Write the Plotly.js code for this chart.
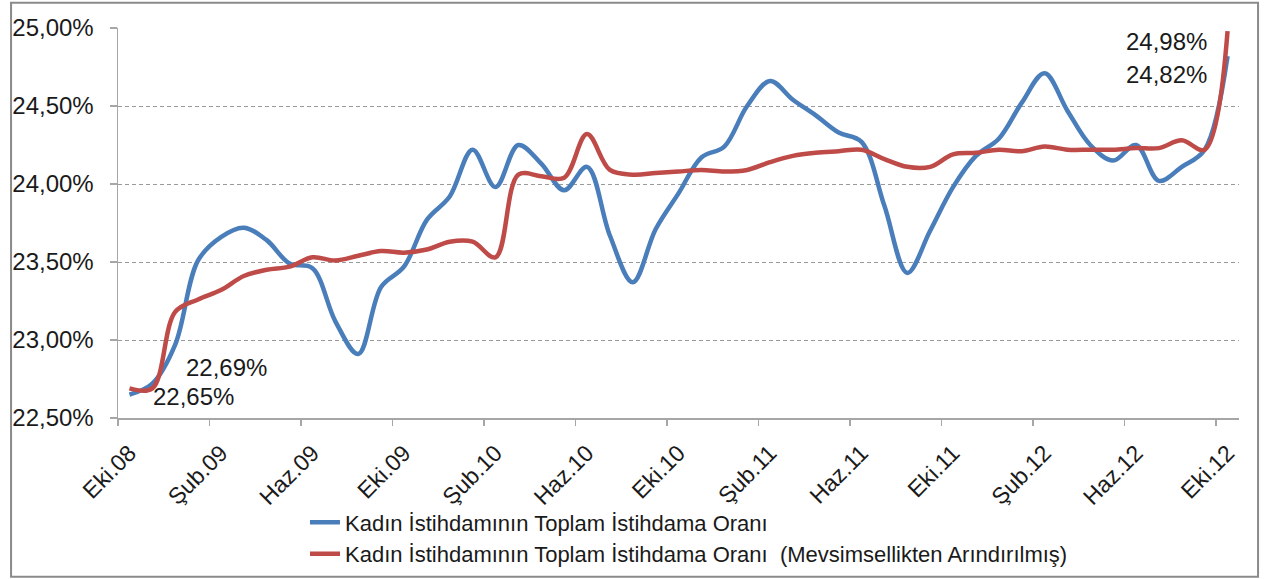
<!DOCTYPE html>
<html><head><meta charset="utf-8">
<script src="https://cdn.plot.ly/plotly-3.0.1.min.js"></script>
<style>html,body{margin:0;padding:0;background:#fff}#chart{width:1268px;height:579px}</style>
</head><body><div id="chart"></div>
<script>
const periods = [
  "Eki.08","Kas.08","Ara.08","Oca.09","Şub.09","Mar.09","Nis.09","May.09","Haz.09","Tem.09","Ağu.09","Eyl.09",
  "Eki.09","Kas.09","Ara.09","Oca.10","Şub.10","Mar.10","Nis.10","May.10","Haz.10","Tem.10","Ağu.10","Eyl.10",
  "Eki.10","Kas.10","Ara.10","Oca.11","Şub.11","Mar.11","Nis.11","May.11","Haz.11","Tem.11","Ağu.11","Eyl.11",
  "Eki.11","Kas.11","Ara.11","Oca.12","Şub.12","Mar.12","Nis.12","May.12","Haz.12","Tem.12","Ağu.12","Eyl.12",
  "Eki.12"
];
const tickLabels = ["Eki.08","Şub.09","Haz.09","Eki.09","Şub.10","Haz.10","Eki.10","Şub.11","Haz.11","Eki.11","Şub.12","Haz.12","Eki.12"];
const seriesNames = [
  "Kadın İstihdamının Toplam İstihdama Oranı",
  "Kadın İstihdamının Toplam İstihdama Oranı \u00a0(Mevsimsellikten Arındırılmış)"
];
const rawRate = [
  22.65,22.72,22.97,23.51,23.66,23.72,23.64,23.49,23.46,23.12,22.91,23.34,
  23.47,23.77,23.92,24.22,23.98,24.25,24.13,23.96,24.11,23.67,23.37,23.71,
  23.94,24.17,24.24,24.50,24.66,24.54,24.44,24.33,24.27,23.86,23.43,23.70,
  23.98,24.18,24.29,24.52,24.71,24.47,24.25,24.15,24.25,24.02,24.11,24.22,
  24.82
];
const adjRate = [
  22.69,22.69,23.18,23.26,23.32,23.41,23.45,23.47,23.53,23.51,23.54,23.57,
  23.56,23.58,23.63,23.63,23.53,24.06,24.05,24.04,24.32,24.09,24.06,24.07,
  24.08,24.09,24.08,24.09,24.14,24.18,24.20,24.21,24.22,24.16,24.11,24.11,
  24.19,24.20,24.22,24.21,24.24,24.22,24.22,24.22,24.23,24.23,24.28,24.22,
  24.98
];
const yTickVals = [22.5,23.0,23.5,24.0,24.5,25.0];
const yTickText = ["22,50%","23,00%","23,50%","24,00%","24,50%","25,00%"];

const xIdx = periods.map((_, i) => i);
const labelIdx = tickLabels.map(l => periods.indexOf(l));
const boundaryIdx = labelIdx.map(i => i - 0.5);
const fmt = v => v.toFixed(2).replace('.', ',') + '%';
const last = periods.length - 1;

const BLUE = '#4a7ebb', RED = '#be4b48';
const FONT = '"Liberation Sans", Arial, sans-serif';

const traces = [
  {x: xIdx, y: rawRate, name: seriesNames[0], type: 'scatter', mode: 'lines',
   line: {color: BLUE, width: 4.5, shape: 'spline', smoothing: 1}, xaxis: 'x', yaxis: 'y'},
  {x: xIdx, y: adjRate, name: seriesNames[1], type: 'scatter', mode: 'lines',
   line: {color: RED, width: 4.5, shape: 'spline', smoothing: 1}, xaxis: 'x2', yaxis: 'y'}
];

const labelFont = {family: FONT, size: 24, color: '#1a1a1a'};
const layout = {
  width: 1268, height: 579,
  margin: {l: 118, r: 29, t: 28, b: 161, autoexpand: false},
  paper_bgcolor: '#fff', plot_bgcolor: '#fff',
  font: {family: FONT, color: '#1a1a1a'},
  showlegend: true,
  xaxis: {
    range: [-0.5, last + 0.5], tickmode: 'array', tickvals: labelIdx, ticktext: tickLabels,
    tickangle: -45, ticks: '', showgrid: false, zeroline: false,
    showline: true, linecolor: '#a6a6a6', linewidth: 1.5, ticklabelstandoff: 11,
    tickfont: {family: FONT, size: 23, color: '#1a1a1a'}, automargin: false
  },
  xaxis2: {
    overlaying: 'x', anchor: 'y', side: 'bottom',
    range: [-0.5, last + 0.5], tickmode: 'array', tickvals: boundaryIdx,
    ticks: 'outside', ticklen: 7, tickcolor: '#a6a6a6', tickwidth: 1.5,
    showticklabels: false, showgrid: false, zeroline: false, showline: false, automargin: false
  },
  yaxis: {
    range: [22.5, 25], tickmode: 'array', tickvals: yTickVals, ticktext: yTickText,
    showgrid: true, gridcolor: '#9a9a9a', griddash: '4px,3px', gridwidth: 1,
    showline: true, linecolor: '#a6a6a6', linewidth: 1.5,
    ticks: 'outside', ticklen: 7, tickcolor: '#a6a6a6', tickwidth: 1.5,
    ticklabelstandoff: 11, zeroline: false,
    tickfont: {family: FONT, size: 24, color: '#1a1a1a'}, automargin: false
  },
  legend: {
    orientation: 'v', x: 0.1668, xanchor: 'left', y: -0.214, yanchor: 'top',
    font: {family: FONT, size: 22, color: '#1a1a1a'},
    bgcolor: 'rgba(0,0,0,0)', tracegroupgap: 0, itemwidth: 30
  },
  annotations: [
    {xref: 'x', yref: 'y', x: 0, y: adjRate[0], text: fmt(adjRate[0]), showarrow: false,
     xshift: 97, yshift: 21, font: labelFont},
    {xref: 'x', yref: 'y', x: 0, y: rawRate[0], text: fmt(rawRate[0]), showarrow: false,
     xshift: 64, yshift: -2, font: labelFont},
    {xref: 'x', yref: 'y', x: last, y: adjRate[last], text: fmt(adjRate[last]), showarrow: false,
     xshift: -61, yshift: -10, font: labelFont},
    {xref: 'x', yref: 'y', x: last, y: rawRate[last], text: fmt(rawRate[last]), showarrow: false,
     xshift: -61, yshift: -18, font: labelFont}
  ],
  shapes: [
    {type: 'rect', xref: 'paper', yref: 'paper', x0: -0.0954, x1: 1.017, y0: -0.407, y1: 1.065,
     line: {color: '#8a8a8a', width: 2}, fillcolor: 'rgba(0,0,0,0)', layer: 'below'}
  ]
};

Plotly.newPlot('chart', traces, layout, {displayModeBar: false, staticPlot: true});
</script>
</body></html>
